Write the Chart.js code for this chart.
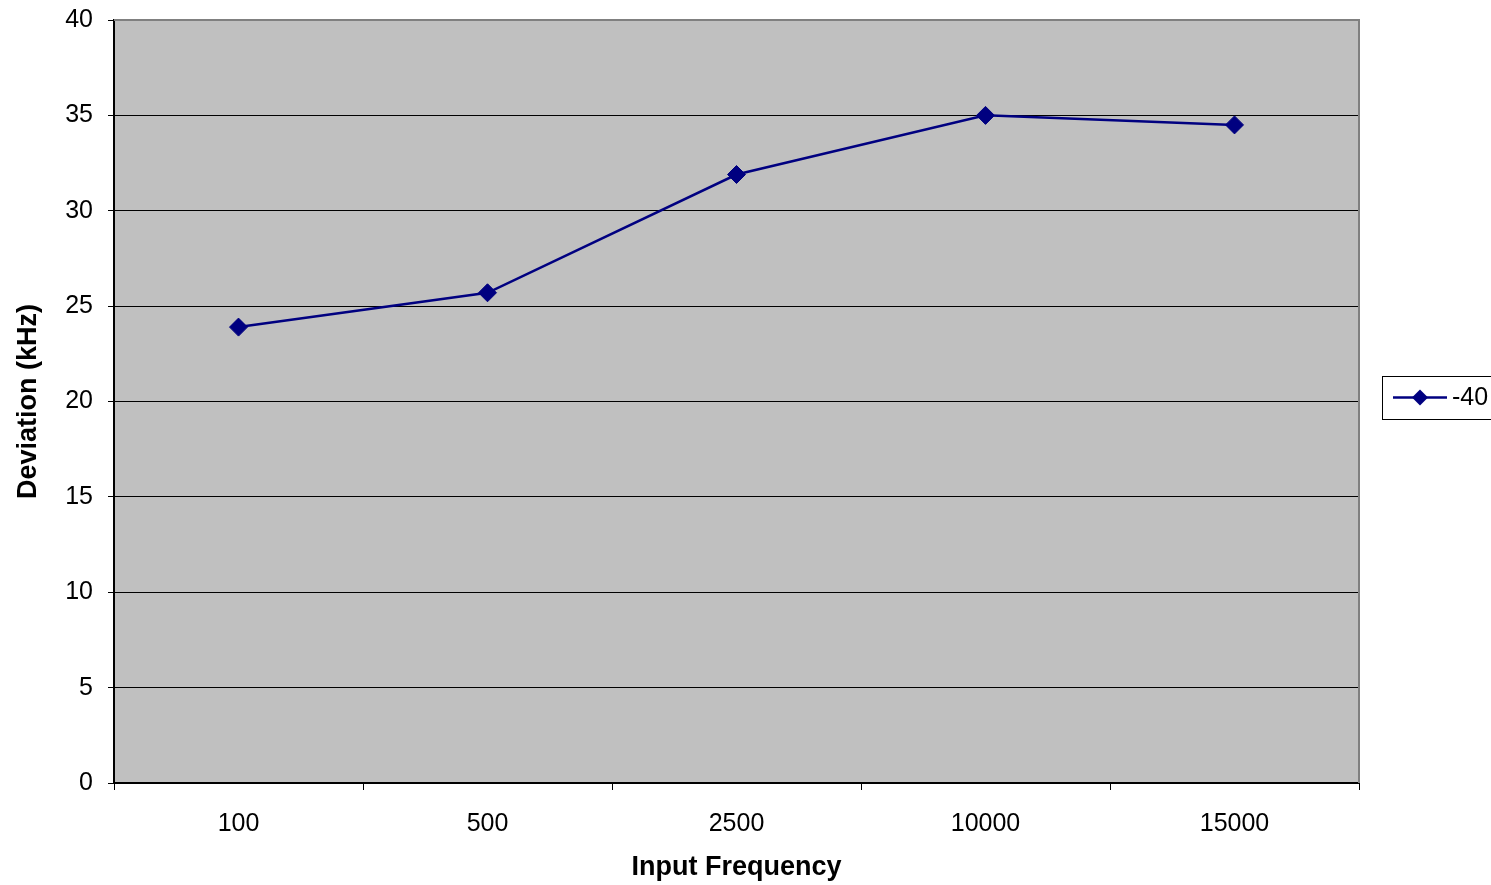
<!DOCTYPE html>
<html>
<head>
<meta charset="utf-8">
<script src="https://cdn.jsdelivr.net/npm/chart.js@4.4.0/dist/chart.umd.min.js"></script>
<style>
  html, body { margin: 0; padding: 0; background: #fff; }
  #wrap { width: 1491px; height: 885px; }
</style>
</head>
<body>
<div id="wrap"><canvas id="grafico"></canvas></div>
<script>
const frecuencias = ["100", "500", "2500", "10000", "15000"];
const desviacion = [23.9, 25.7, 31.9, 35.0, 34.5];
const serieNombre = "-40";
const yTicks = [0, 5, 10, 15, 20, 25, 30, 35, 40];

const FUENTE = '"Liberation Sans", Arial, sans-serif';
const AZUL = '#000080';

// fondo gris del area del grafico
const fondoPlugin = {
    id: 'fondo',
    beforeDraw(chart) {
        const { ctx, chartArea: a } = chart;
        ctx.save();
        ctx.fillStyle = '#C0C0C0';
        ctx.fillRect(a.left, a.top, a.right - a.left, a.bottom - a.top);
        ctx.restore();
    },
    afterDraw(chart) {
        const { ctx, chartArea: a } = chart;
        ctx.save();
        ctx.strokeStyle = '#808080';
        ctx.lineWidth = 2;
        ctx.beginPath();
        ctx.moveTo(a.left, a.top);
        ctx.lineTo(a.right, a.top);
        ctx.lineTo(a.right, a.bottom);
        ctx.stroke();

        // leyenda
        const x0 = 1382, y0 = 376, h = 43;
        ctx.fillStyle = '#fff';
        ctx.fillRect(x0, y0, 120, h);
        ctx.strokeStyle = '#000';
        ctx.lineWidth = 1;
        ctx.strokeRect(x0 + 0.5, y0 + 0.5, 120, h);
        const cy = y0 + h / 2;
        ctx.strokeStyle = AZUL;
        ctx.lineWidth = 2.5;
        ctx.beginPath();
        ctx.moveTo(1393, cy);
        ctx.lineTo(1447, cy);
        ctx.stroke();
        ctx.fillStyle = AZUL;
        ctx.beginPath();
        ctx.moveTo(1420, cy - 8);
        ctx.lineTo(1428, cy);
        ctx.lineTo(1420, cy + 8);
        ctx.lineTo(1412, cy);
        ctx.closePath();
        ctx.fill();
        ctx.fillStyle = '#000';
        ctx.font = '25px ' + FUENTE;
        ctx.textBaseline = 'middle';
        ctx.textAlign = 'left';
        ctx.fillText(serieNombre, 1452, cy + 1);
        ctx.restore();
    }
};

const canvas = document.getElementById('grafico');
new Chart(canvas, {
    type: 'line',
    data: {
        labels: frecuencias,
        datasets: [{
            label: serieNombre,
            data: desviacion,
            borderColor: AZUL,
            backgroundColor: AZUL,
            borderWidth: 2.5,
            pointStyle: 'rectRot',
            pointRadius: 9,
            pointBorderWidth: 1,
            tension: 0,
            fill: false
        }]
    },
    options: {
        responsive: true,
        maintainAspectRatio: false,
        animation: false,
        layout: { padding: { top: 20, right: 132, left: 0, bottom: 0 } },
        plugins: {
            legend: { display: false },
            tooltip: { enabled: false }
        },
        scales: {
            x: {
                offset: true,
                afterFit: s => { s.height = 102; s.paddingLeft = 0; s.paddingRight = 0; },
                grid: {
                    offset: true,
                    drawOnChartArea: false,
                    drawTicks: true,
                    tickLength: 7,
                    tickColor: '#000',
                    tickWidth: 1
                },
                border: { color: '#000', width: 2 },
                ticks: {
                    color: '#000',
                    padding: 19,
                    maxRotation: 0,
                    font: { family: FUENTE, size: 25 }
                },
                title: {
                    display: true,
                    text: 'Input Frequency',
                    color: '#000',
                    padding: { top: 0, bottom: 1 },
                    font: { family: FUENTE, size: 27, weight: 'bold', lineHeight: 1.2 }
                }
            },
            y: {
                min: 0,
                max: 40,
                afterFit: s => { s.width = 114; s.paddingTop = 0; s.paddingBottom = 0; },
                afterBuildTicks: s => { s.ticks = yTicks.map(v => ({ value: v })); },
                grid: {
                    color: ctx => (ctx.tick && ctx.tick.value === 40) ? '#808080' : '#000',
                    lineWidth: 1,
                    drawTicks: true,
                    tickLength: 6,
                    tickColor: '#000'
                },
                border: { color: '#000', width: 2 },
                ticks: {
                    color: '#000',
                    padding: 15,
                    font: { family: FUENTE, size: 25 }
                },
                title: {
                    display: true,
                    text: 'Deviation (kHz)',
                    color: '#000',
                    padding: { top: 12, bottom: 0 },
                    font: { family: FUENTE, size: 27, weight: 'bold', lineHeight: 1.2 }
                }
            }
        }
    },
    plugins: [fondoPlugin]
});
</script>
</body>
</html>
